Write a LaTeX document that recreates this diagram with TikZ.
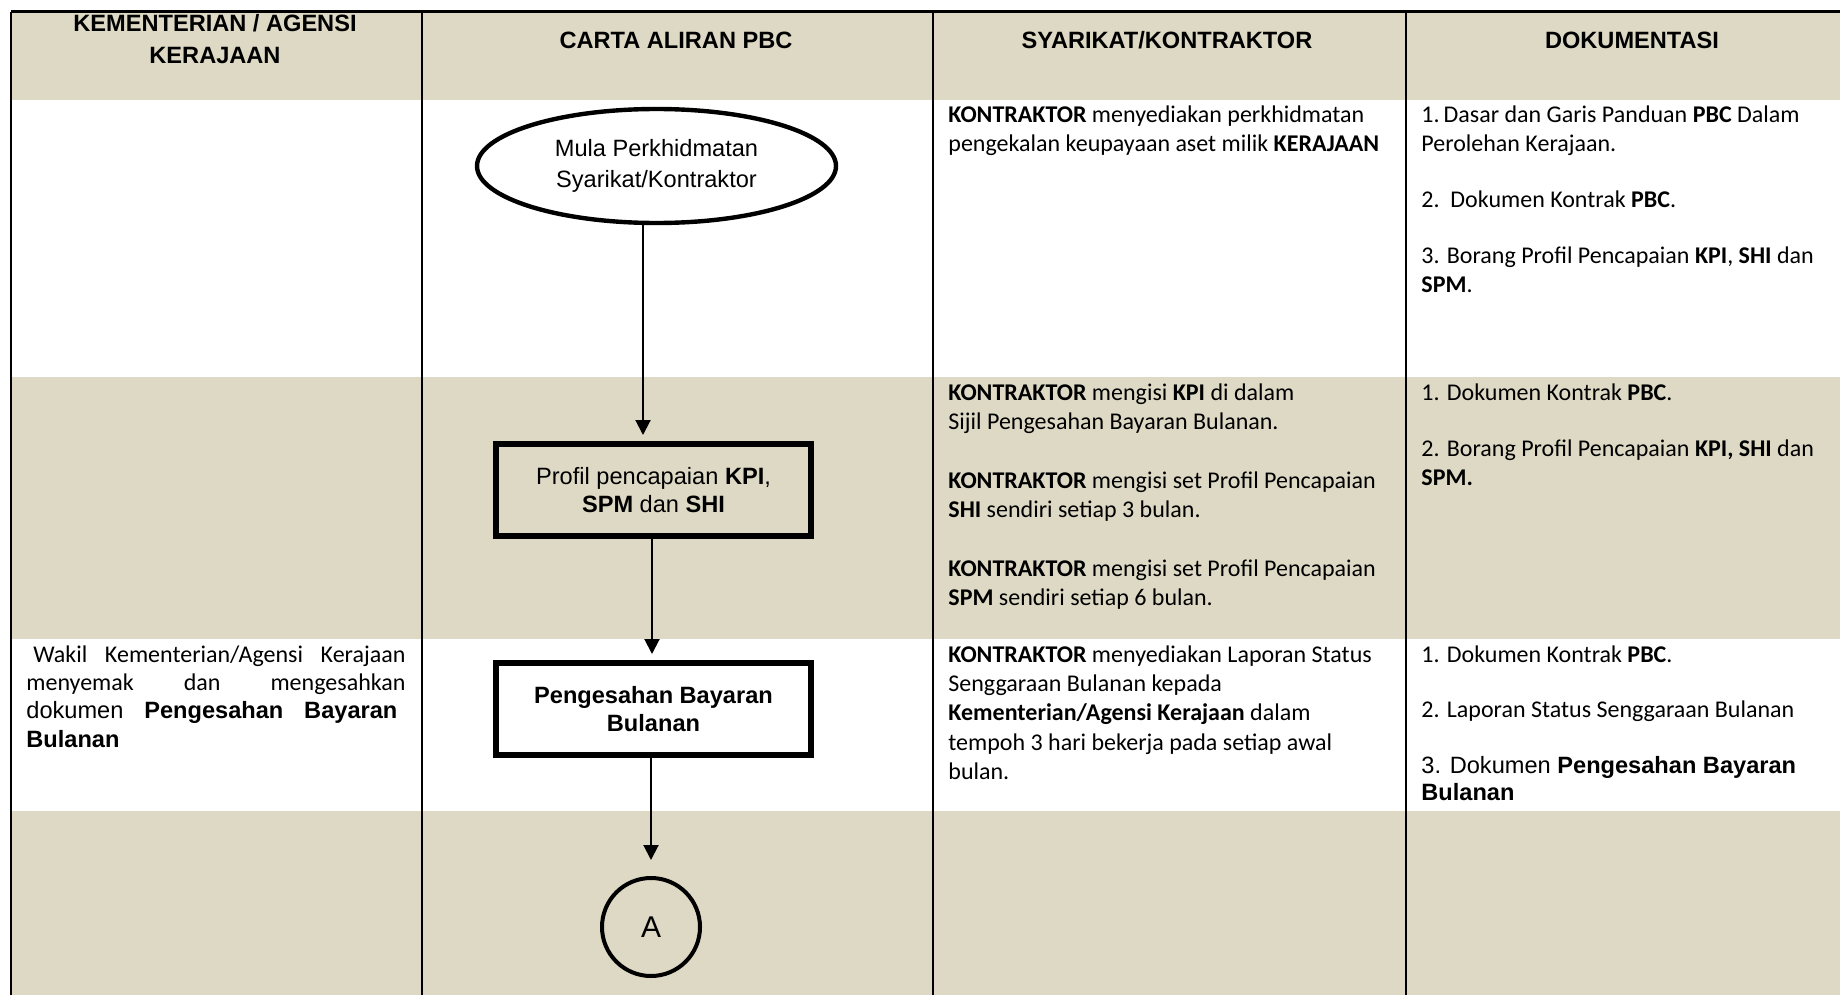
\documentclass[tikz,border=0pt]{standalone}
\usepackage{fontspec}
\setmainfont{Liberation Sans}
\newfontfamily\calibri{Carlito}
\newfontfamily\arial{Liberation Sans}
\usepackage{xcolor}
\usepackage{tikz}
\usetikzlibrary{shapes.geometric, arrows.meta, positioning, calc}
\definecolor{tanrow}{RGB}{221,217,196}

\begin{document}
\begin{tikzpicture}[x=0.5pt, y=-0.5pt, >={Triangle[width=7.5pt,length=7.5pt]}]
        % Define styles
        \tikzstyle{heading} = [font=\arial\bfseries\fontsize{11.8}{15.8}\selectfont, align=center, inner sep=0pt]
        \tikzstyle{celltext} = [anchor=base west, inner sep=0pt, align=flush left, font=\calibri\fontsize{12}{14.7}\selectfont]
        \tikzstyle{terminal} = [ellipse, draw=black, line width=2.2pt, minimum width=179.5pt, minimum height=57pt, inner sep=0pt, align=center, font=\arial\fontsize{11.8}{15.8}\selectfont]
        \tikzstyle{process} = [rectangle, draw=black, line width=3pt, minimum width=157.5pt, minimum height=46pt, inner sep=0pt, align=center, font=\arial\fontsize{11.8}{14.3}\selectfont]
        \tikzstyle{offpage} = [circle, draw=black, line width=2pt, minimum size=49pt, inner sep=0pt, font=\arial\fontsize{15}{18}\selectfont]
        \tikzstyle{arrow} = [line width=1pt, ->]
        \tikzstyle{rule} = [line width=1pt]

        \useasboundingbox (0,0) rectangle (1840,995);

        % Row shading
        \fill [tanrow] (11,12) rectangle (1840,100);
        \fill [tanrow] (11,377) rectangle (1840,639);
        \fill [tanrow] (11,811) rectangle (1840,995);

        % Table rules
        \draw [rule, line width=1.5pt] (10.5,12) -- (1840,12);
        \foreach \x in {11, 422, 933, 1406}
            \draw [rule] (\x,12) -- (\x,995);

        % Headings
        \node (hkem) [heading] at (215,39) {KEMENTERIAN / AGENSI\\KERAJAAN};
        \node (hcarta) [heading] at (676,40) {CARTA ALIRAN PBC};
        \node (hsyarikat) [heading] at (1167,40) {SYARIKAT/KONTRAKTOR};
        \node (hdokumen) [heading] at (1632,40) {DOKUMENTASI};

        % Row 1: Mula perkhidmatan
        \node (mula) [terminal] at (656.5,166) {Mula Perkhidmatan\\Syarikat/Kontraktor};
        \node (syarikat1) [celltext, text width=225pt] at (948,122) {\textbf{KONTRAKTOR} menyediakan perkhidmatan\\pengekalan keupayaan aset milik \textbf{KERAJAAN}};
        \node (dokumen1) [celltext, text width=209pt] at (1421,122) {1.\hspace{2pt}Dasar dan Garis Panduan \textbf{PBC} Dalam\\Perolehan Kerajaan.\\[13.3pt]2.\ \ Dokumen Kontrak \textbf{PBC}.\\[13.3pt]3. Borang Profil Pencapaian \textbf{KPI}, \textbf{SHI} dan\\\textbf{SPM}.};

        % Row 2: Profil pencapaian
        \node (profil) [process] at (653.5,490) {Profil pencapaian \textbf{KPI},\\\textbf{SPM} dan \textbf{SHI}};
        \node (syarikat2) [celltext, text width=225pt] at (948,400) {\textbf{KONTRAKTOR} mengisi \textbf{KPI} di dalam\\Sijil Pengesahan Bayaran Bulanan.\\[14.7pt]\textbf{KONTRAKTOR} mengisi set Profil Pencapaian\\\textbf{SHI} sendiri setiap 3 bulan.\\[14.7pt]\textbf{KONTRAKTOR} mengisi set Profil Pencapaian\\\textbf{SPM} sendiri setiap 6 bulan.};
        \node (dokumen2) [celltext, text width=209pt] at (1421,400) {1. Dokumen Kontrak \textbf{PBC}.\\[13.5pt]2. Borang Profil Pencapaian \textbf{KPI, SHI} dan\\\textbf{SPM.}};

        % Row 3: Pengesahan bayaran bulanan
        \node (wakil) [celltext, text width=189.5pt, align=justify, font=\calibri\fontsize{12}{14.2}\selectfont] at (26,662) {\hspace*{3.5pt}Wakil Kementerian/Agensi Kerajaan\linebreak menyemak dan mengesahkan\linebreak {\arial\fontsize{11.8}{14.2}\selectfont dokumen \textbf{Pengesahan Bayaran}\hspace*{4pt}\linebreak\textbf{Bulanan}}};
        \node (sah) [process, font=\arial\bfseries\fontsize{11.8}{13.6}\selectfont] at (653.5,709) {Pengesahan Bayaran\\Bulanan};
        \node (syarikat3) [celltext, text width=225pt] at (948,662) {\textbf{KONTRAKTOR} menyediakan Laporan Status\\Senggaraan Bulanan kepada\\\textbf{Kementerian/Agensi Kerajaan} dalam\\tempoh 3 hari bekerja pada setiap awal\\bulan.};
        \node (dokumen3) [celltext, text width=209pt] at (1421,662) {1. Dokumen Kontrak \textbf{PBC}.\\[12.8pt]2. Laporan Status Senggaraan Bulanan};
        \node (dokumen3b) [celltext, text width=209pt, font=\arial\fontsize{11.8}{13.5}\selectfont] at (1421,773.5) {3. Dokumen \textbf{Pengesahan Bayaran}\\\textbf{Bulanan}};

        % Row 4: penyambung A
        \node (sambungA) [offpage] at (651,927) {A};

        % Arrows
        \draw [arrow, shorten >=3pt] ([xshift=-6.75pt]mula.south) -- ([xshift=-5.25pt]profil.north);
        \draw [arrow, shorten >=3pt] ([xshift=-0.75pt]profil.south) -- ([xshift=-0.75pt]sah.north);
        \draw [arrow, shorten >=8pt] ([xshift=-1.25pt]sah.south) -- (sambungA);
    \end{tikzpicture}
\end{document}
